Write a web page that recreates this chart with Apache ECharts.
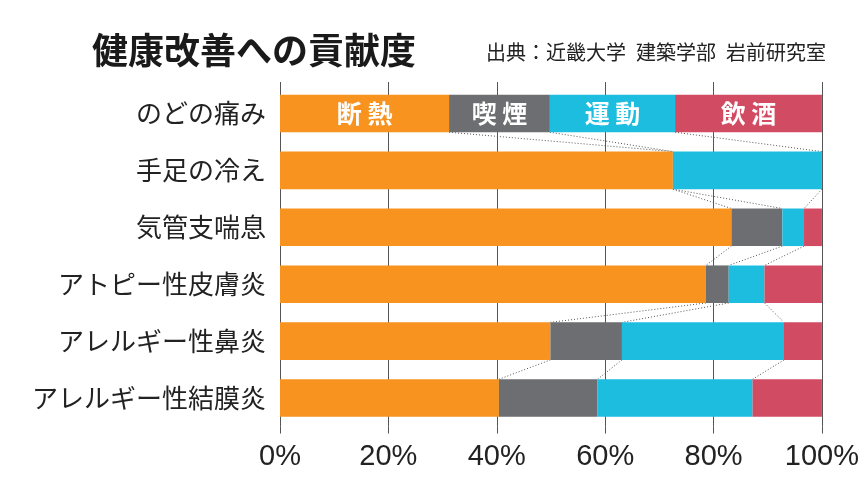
<!DOCTYPE html>
<html>
<head>
<meta charset="utf-8">
<script src="https://cdn.jsdelivr.net/npm/echarts@6/dist/echarts.min.js"></script>
<style>
html,body{margin:0;padding:0;background:#fff;}
#chart{width:862px;height:503px;}
</style>
</head>
<body>
<div id="chart"></div>
<script>
// ---- data ----
const categories = ['のどの痛み', '手足の冷え', '気管支喘息', 'アトピー性皮膚炎', 'アレルギー性鼻炎', 'アレルギー性結膜炎'];
const seriesNames = ['断熱', '喫煙', '運動', '飲酒'];
const insulation = [31.2, 72.5, 83.3, 78.6, 49.9, 40.4];
const smoking    = [18.6, 0,    9.4,  4.2,  13.2, 18.2];
const exercise   = [23.1, 27.5, 4.0,  6.6,  29.9, 28.6];
const drinking   = [27.1, 0,    3.3,  10.6, 7.0,  12.8];
const xTicks = [0, 20, 40, 60, 80, 100];

const values = [insulation, smoking, exercise, drinking];
const colors = ['#F7931E', '#6D6E71', '#1DBDE0', '#D14B63'];
const FONT = '"Noto Sans CJK JP", "Noto Sans", sans-serif';

// connector lines between consecutive bars at each cumulative boundary
const links = [];
for (let i = 0; i < categories.length - 1; i++) {
  let c1 = 0, c2 = 0;
  for (let k = 0; k < values.length - 1; k++) {
    c1 += values[k][i];
    c2 += values[k][i + 1];
    links.push([c1, i, c2, i + 1]);
  }
}

const barSeries = values.map((arr, s) => ({
  name: seriesNames[s],
  type: 'bar',
  stack: 'total',
  barWidth: '66%',
  itemStyle: { color: colors[s] },
  label: {
    show: false,
    position: 'inside',
    formatter: p => p.seriesName.split('').join(' '),
    color: '#ffffff',
    fontFamily: FONT,
    fontWeight: 'bold',
    fontSize: 25
  },
  data: arr.map((v, i) => i === 0 ? { value: v, label: { show: true } } : v),
  z: 3
}));

const chart = echarts.init(document.getElementById('chart'), null, { renderer: 'canvas' });
chart.setOption({
  animation: false,
  backgroundColor: '#ffffff',
  title: [
    {
      text: '健康改善への貢献度',
      left: 87, top: 27,
      textStyle: { fontFamily: FONT, fontWeight: 'bold', fontSize: 36, color: '#1a1a1a' }
    },
    {
      text: '出典：近畿大学\u2002建築学部\u2002岩前研究室',
      right: 31, top: 37,
      textStyle: { fontFamily: FONT, fontWeight: 'normal', fontSize: 20, color: '#222' }
    }
  ],
  grid: { left: 280, right: 40, top: 85, bottom: 76.5, containLabel: false },
  xAxis: [
    {
      type: 'value', min: 0, max: 100, interval: 20,
      axisLine: { show: false },
      axisTick: { show: true, length: 7, lineStyle: { color: '#555', width: 1 } },
      splitLine: { show: true, lineStyle: { color: '#555', width: 1 } },
      axisLabel: {
        formatter: '{value}%', fontFamily: 'Liberation Sans, Arial, sans-serif',
        fontSize: 29, color: '#222', margin: 16
      }
    },
    {
      type: 'value', min: 0, max: 100, interval: 20, position: 'top',
      axisLine: { show: false },
      axisTick: { show: true, length: 3, lineStyle: { color: '#555', width: 1 } },
      splitLine: { show: false },
      axisLabel: { show: false }
    }
  ],
  yAxis: {
    type: 'category', data: categories, inverse: true,
    axisLine: { show: false },
    axisTick: { show: false },
    axisLabel: { fontFamily: FONT, fontSize: 26, color: '#222', margin: 14 }
  },
  series: [
    ...barSeries,
    {
      type: 'custom',
      z: 2,
      data: links,
      encode: { x: [0, 2], y: [1, 3] },
      renderItem: (params, api) => {
        const p1 = api.coord([api.value(0), api.value(1)]);
        const p2 = api.coord([api.value(2), api.value(3)]);
        const band = api.size([0, 1])[1];
        const half = band * 0.66 / 2;
        return {
          type: 'line',
          shape: { x1: p1[0], y1: p1[1] + half, x2: p2[0], y2: p2[1] - half },
          style: { stroke: '#555', lineWidth: 1, lineDash: [1, 2] }
        };
      }
    }
  ]
});
</script>
</body>
</html>
